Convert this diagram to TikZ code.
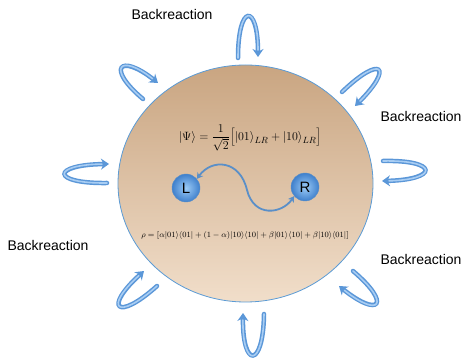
\documentclass[tikz,border=0pt]{standalone}
\usepackage{fontspec}
\newfontfamily\labelfont{Liberation Sans}
\usetikzlibrary{arrows.meta,shapes.geometric}
\definecolor{tanDark}{HTML}{C9A581}
\definecolor{tanLight}{HTML}{F1DECA}
\definecolor{rimblue}{HTML}{5B9BD5}
\definecolor{arrowdark}{HTML}{5B97D8}
\definecolor{arrowlight}{HTML}{A8CDF3}
\definecolor{linkblue}{HTML}{5A8FC8}
\definecolor{sphereinner}{HTML}{9CCBF6}
\definecolor{sphereouter}{HTML}{3F80CC}
\tikzset{
  backlabel/.style={font=\labelfont\fontsize{14}{16}\selectfont, text=black, inner sep=0pt},
  uarrowout/.style={line width=4.5pt, arrowdark, line cap=round, -{Stealth[length=8pt,width=11pt]}},
  uarrowin/.style={line width=1.6pt, arrowlight, line cap=round, shorten >=7pt},
  sphere/.style={circle, minimum size=28pt, inner sep=0pt, shading=radial, inner color=sphereinner, outer color=sphereouter, draw=linkblue, line width=0.4pt, font=\labelfont\fontsize{15}{15}\selectfont},
  link/.style={line width=1.8pt, linkblue, {Stealth[length=6pt,width=7pt]}-{Stealth[length=6pt,width=7pt]}}
}
\newcommand\uarrow[5]{%
  \draw[uarrowout] (#1) .. controls #2 and #3 .. (#4);
  \draw[uarrowin] (#1) .. controls #2 and #3 .. (#4);
}
\begin{document}
\begin{tikzpicture}[x=1pt,y=-1pt]
\useasboundingbox (0,0) rectangle (464,358);
% main disc
\node[ellipse, minimum width=255pt, minimum height=237pt, inner sep=0pt,
      top color=tanDark, bottom color=tanLight, draw=rimblue, line width=0.8pt] (disc) at (245.5,183.5) {};
% labels
\node[backlabel] (lab1) at (172,14) {Backreaction};
\node[backlabel] (lab2) at (421,116) {Backreaction};
\node[backlabel] (lab3) at (48,245) {Backreaction};
\node[backlabel] (lab4) at (421,259) {Backreaction};
% arrow end coordinates
\coordinate (a1s) at (238,58);  \coordinate (a1e) at (258,57);
\coordinate (a2s) at (143,99);  \coordinate (a2e) at (158,83);
\coordinate (a3s) at (342,92);  \coordinate (a3e) at (355,106);
\coordinate (a4s) at (383,161); \coordinate (a4e) at (382,181);
\coordinate (a5s) at (107,183); \coordinate (a5e) at (109,164);
\coordinate (a6s) at (157,286); \coordinate (a6e) at (144,271);
\coordinate (a7s) at (353,271); \coordinate (a7e) at (339,286);
\coordinate (a8s) at (264,314); \coordinate (a8e) at (243,313);
\uarrow{a1s}{(238,3)}{(258,3)}{a1e}{}
\uarrow{a2s}{(105.7,67.7)}{(119.7,52.7)}{a2e}{}
\uarrow{a3s}{(381.3,54)}{(394.3,67)}{a3e}{}
\uarrow{a4s}{(439,159.7)}{(439,179.7)}{a4e}{}
\uarrow{a5s}{(50.3,183.7)}{(51.3,164.7)}{a5e}{}
\uarrow{a6s}{(117,322)}{(103,308)}{a6e}{}
\uarrow{a7s}{(392.3,304.3)}{(379.3,318.3)}{a7e}{}
\uarrow{a8s}{(263.3,368.7)}{(242.3,368.7)}{a8e}{}
% state formula
\node[inner sep=0pt] (psi) at (250,138) {\fontsize{12.5}{15}\selectfont$\displaystyle \bigl|\Psi\bigr\rangle=\frac{1}{\sqrt{2}}\Bigl[\bigl|01\bigr\rangle_{LR}+\bigl|10\bigr\rangle_{LR}\Bigr]$};
% spheres
\node[sphere] (L) at (186,188) {L};
\node[sphere] (R) at (305,187) {R};
\draw[link] (L.40) .. controls (212,158) and (240,160) .. (247,190)
            .. controls (254,218) and (282,214) .. (R.220);
% density matrix
\node[inner sep=0pt] (rho) at (245,236) {\fontsize{8}{9}\selectfont$\rho=[\alpha|01\rangle\langle01|+(1-\alpha)|10\rangle\langle10|+\beta|01\rangle\langle10|+\beta|10\rangle\langle01|]$};
\end{tikzpicture}
\end{document}
